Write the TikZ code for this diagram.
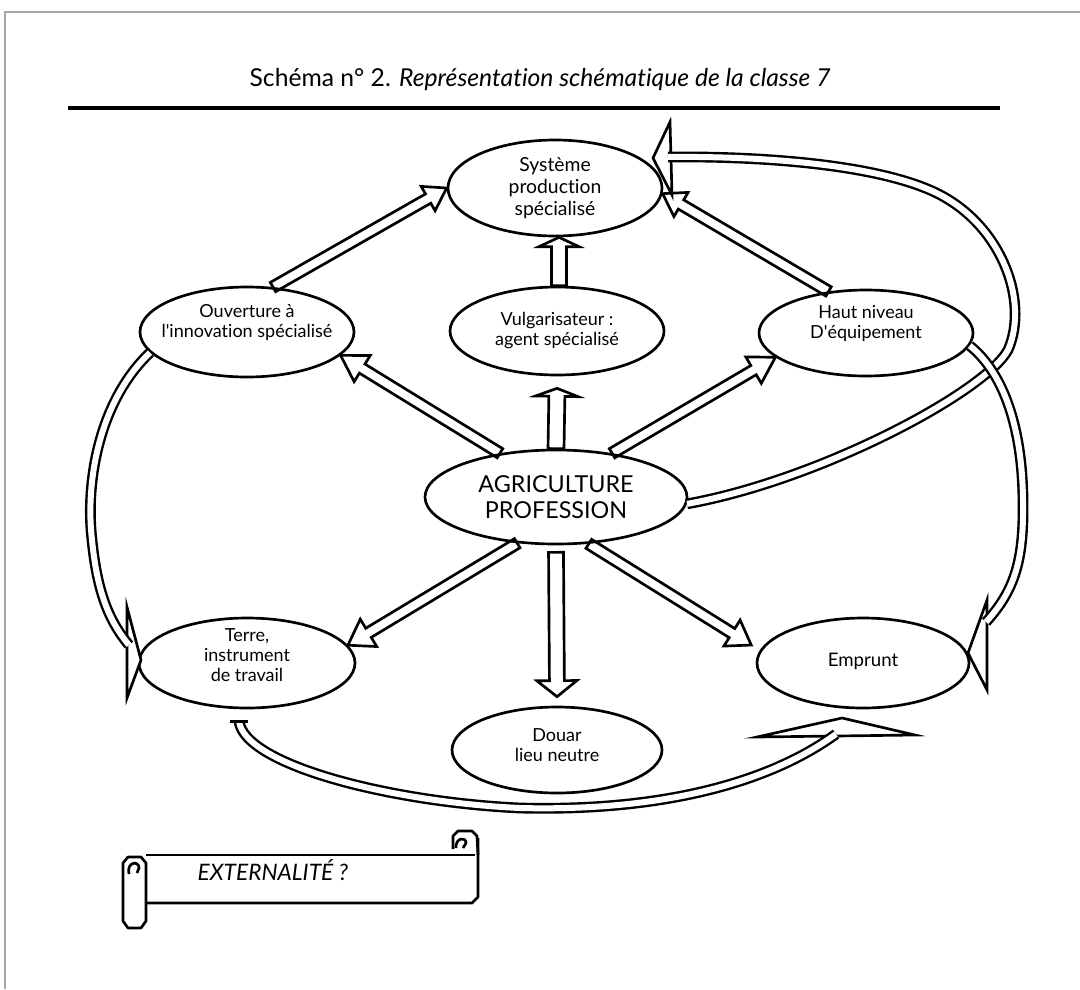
\documentclass[tikz,border=0pt]{standalone}
\usepackage{fontspec}
\setmainfont{Lato}[Ligatures={TeX,NoCommon}]
\usetikzlibrary{calc,shapes.geometric}
\newcommand\harrow[5]{%
  \coordinate (hb) at ($(#2)!#5!(#1)$);
  \draw[hollow] ($(#1)!#3!90:(#2)$) -- ($(hb)!#3!90:(#2)$) -- ($(hb)!#4!90:(#2)$) -- (#2)
     -- ($(hb)!#4!-90:(#2)$) -- ($(hb)!#3!-90:(#2)$) -- ($(#1)!#3!-90:(#2)$) -- cycle;
}
\begin{document}
\begin{tikzpicture}[x=0.75pt,y=-0.75pt,
  ell/.style={draw, ellipse, line width=2pt, inner sep=0pt},
  lbl/.style={align=center, font=\fontsize{13.5}{15}\selectfont, inner sep=0pt},
  hollow/.style={draw, line width=2pt, line join=miter},
  band/.style={line width=1.8pt, double=white, double distance=4.5pt},
  headst/.style={draw, line width=2pt, fill=white, line join=miter},
  scr/.style={line width=2pt, line join=round}]
\useasboundingbox (0,0) rectangle (1080,989);
% frame
\draw[gray!70, line width=1.1pt] (5,989) -- (5,12) -- (1080,12);
% title
\node[font=\fontsize{18.5}{21}\selectfont] (title) at (540,80) {Schéma n° 2. \textit{Représentation schématique de la classe 7}};
\draw[line width=2.8pt] (68,108) -- (1000,108);
% ellipses
\node[ell, minimum width=160.5pt, minimum height=72pt] (sys) at (555,188) {};
\node[ell, minimum width=160.5pt, minimum height=66pt] (vulg) at (557,331) {};
\node[ell, minimum width=160.5pt, minimum height=67.5pt] (ouv) at (247,332) {};
\node[ell, minimum width=160.5pt, minimum height=64.5pt] (haut) at (866,333) {};
\node[ell, minimum width=196.5pt, minimum height=70.5pt] (agri) at (556,497) {};
\node[ell, minimum width=162pt, minimum height=67.5pt] (terre) at (247,663) {};
\node[ell, minimum width=157.5pt, minimum height=64.5pt] (douar) at (557,750) {};
\node[ell, minimum width=159pt, minimum height=67.5pt] (empr) at (863,663) {};
% labels
\node[lbl, font=\fontsize{14.5}{16.5}\selectfont] (syst) at (555,188) {Système\\production\\spécialisé};
\node[lbl] (vulgt) at (557,331) {Vulgarisateur :\\agent spécialisé};
\node[lbl] (ouvt) at (247,323) {Ouverture à\\l\textquotesingle innovation spécialisé};
\node[lbl] (hautt) at (866,323) {Haut niveau\\D\textquotesingle équipement};
\node[lbl, font=\fontsize{17.5}{19}\selectfont] (agrit) at (556,497) {AGRICULTURE\\PROFESSION};
\node[lbl] (terret) at (247,655) {Terre,\\instrument\\de travail};
\node[lbl] (douart) at (557,745) {Douar\\lieu neutre};
\node[lbl, font=\fontsize{14}{16}\selectfont] (emprt) at (863,661) {Emprunt};
% straight hollow arrows
\harrow{ouv.60}{sys.180}{4pt}{10.5pt}{16pt}
\harrow{haut.132}{sys.-3}{4pt}{10.5pt}{16pt}
\coordinate (vt) at ($(vulg.north)+(2,0)$);
\coordinate (vh) at ($(sys.south)+(4,0)$);
\harrow{vt}{vh}{5.6pt}{15pt}{7pt}
\harrow{agri.142}{ouv.-14}{4pt}{11.5pt}{19pt}
\coordinate (avh) at ($(vulg.south)+(0,12)$);
\harrow{agri.north}{avh}{6pt}{16pt}{6pt}
\harrow{agri.38}{haut.-165}{4pt}{11.5pt}{19pt}
\harrow{agri.-130}{terre.10}{4pt}{12pt}{18pt}
\coordinate (adt) at ($(agri.south)+(0,7)$);
\coordinate (adh) at ($(douar.north)+(0,-9)$);
\harrow{adt}{adh}{5.6pt}{15pt}{12pt}
\coordinate (aeh) at ($(empr.171)+(-11,-2)$);
\harrow{agri.-55}{aeh}{4pt}{11.5pt}{17pt}
% curved loop: agri -> sys
\coordinate (h10) at (653,158);
\draw[headst] (670,122) -- (h10) -- (672,195) -- cycle;
\draw[band] (agri.-3) .. controls (820,480) and (985,392) .. (1008,350)
  .. controls (1030,300) and (1000,220) .. (930,190)
  .. controls (870,164) and (760,156) .. (668,157);
% curved loop: ouv -> terre
\coordinate (h11) at (141,660);
\draw[headst] (127,607) -- (h11) -- (127,698) -- cycle;
\draw[band] (ouv.192) .. controls (100,400) and (85,480) .. (92,540)
  .. controls (97,590) and (108,620) .. (129,645);
% curved loop: haut -> empr
\coordinate (h12) at (968,653);
\draw[headst] (987,600) -- (h12) -- (987,690) -- cycle;
\draw[band] (haut.-7) .. controls (1000,370) and (1022,420) .. (1023,500)
  .. controls (1024,560) and (1015,590) .. (986,622);
% curved loop: terre -> empr
\coordinate (t13) at ($(terre.south)+(-8,12)$);
\coordinate (h13) at (842,718);
\draw[headst] (757,737) -- (h13) -- (915,735) -- cycle;
\draw[band] (t13) .. controls (245,765) and (390,802) .. (520,808)
  .. controls (680,812) and (780,775) .. (836,734);
\draw[line width=1.8pt] ($(t13)+(-9,0)$) -- ($(t13)+(9,0)$);
% scroll
\draw[scr] (146,855) -- (475,855);
\draw[scr] (146,903) -- (472,903) -- (478,897) -- (478,838);
\draw[scr] (453,849) -- (453,836) -- (458,831) -- (472,831) -- (477,836) -- (478,855);
\draw[scr] (456,848) .. controls (455,838) and (466,836) .. (466,843) -- (463,848);
\draw[scr] (128,857) -- (141,857) -- (146,863) -- (146,921) -- (141,928) -- (128,928) -- (123,921) -- (123,863) -- cycle;
\draw[scr] (129,874) .. controls (126,862) and (139,860) .. (139,868) -- (137,873);
\node[font=\fontsize{17}{19}\selectfont\itshape, anchor=west] (ext) at (193,870) {EXTERNALITÉ ?};
\end{tikzpicture}
\end{document}
